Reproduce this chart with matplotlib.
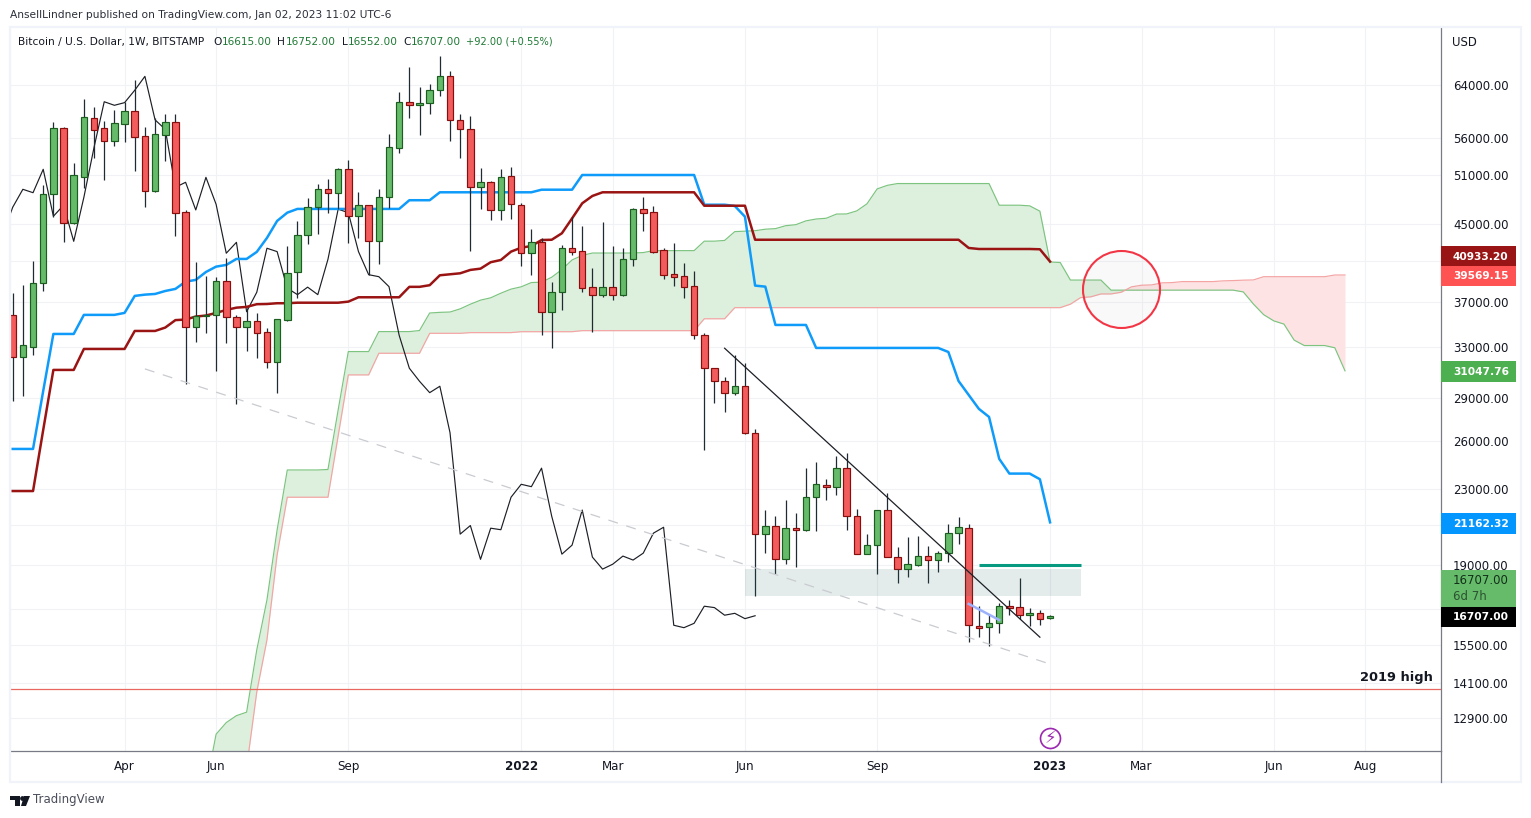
import numpy as np
import matplotlib
matplotlib.use('Agg')
from matplotlib import pyplot as plt
from matplotlib.patches import Rectangle, Polygon
from matplotlib.ticker import NullLocator

W, H = 1531, 818

# weekly candles, first week is index 0, last one is Jan 02 2023 (index 102)
opens = [35740, 32180, 33010, 38815, 48535, 57360, 45170, 50740, 58825, 57360,
         55580, 58030, 59875, 56210, 48980, 56430, 58235, 46375, 34670, 35650,
         35745, 38950, 35560, 34670, 35200, 34230, 31735, 35350, 39840, 43755,
         46965, 49150, 48660, 51700, 45910, 47200, 43090, 48170, 54520, 61340,
         60790, 61200, 63150, 65410, 58530, 57210, 49400, 50030, 46650, 50790,
         47200, 41810, 42980, 36060, 37880, 42340, 42020, 38370, 37650, 38370,
         37650, 41180, 46740, 46375, 42120, 39640, 39440, 38460, 33970, 31255,
         30240, 29380, 29860, 26510, 20540, 20990, 19270, 20860, 20750, 22550,
         23260, 23125, 24270, 21490, 19555, 19975, 21830, 19380, 18800, 19015,
         19430, 19235, 19575, 20590, 20850, 16265, 16225, 16390, 17115, 17070,
         16730, 16810, 16615]
highs = [37780, 38560, 40970, 49690, 58235, 57505, 52495, 61770, 60485, 58385,
         60070, 61300, 64810, 57505, 58825, 59470, 59470, 46640, 40870, 39470,
         39340, 41280, 35770, 36400, 35950, 34610, 35420, 42580, 45370, 48090,
         49815, 50450, 51830, 52890, 48780, 47240, 49190, 56530, 62870, 66950,
         63680, 64160, 68870, 66310, 59420, 59170, 51870, 50160, 51700, 52000,
         47470, 44420, 43420, 38850, 42690, 45800, 44800, 40280, 45250, 42580,
         42370, 46880, 48170, 47120, 42340, 42910, 40800, 39970, 34140, 31280,
         30570, 32295, 31655, 26790, 21840, 21510, 22400, 21670, 24280, 24660,
         23620, 25040, 25230, 21890, 20550, 21840, 22780, 19890, 20400, 20450,
         19940, 19690, 21070, 21450, 21070, 17130, 16780, 17245, 17390, 18380,
         17040, 16945, 16752]
lows = [28790, 29160, 32320, 38030, 45860, 43045, 45025, 49275, 53200, 50315,
        54840, 55400, 51480, 47040, 48850, 52840, 43710, 30035, 33400, 34170,
        31040, 33320, 28550, 32650, 32075, 31280, 29360, 35250, 37310, 42830,
        43935, 46330, 46800, 42940, 43425, 39570, 40720, 46920, 53940, 58920,
        56430, 59510, 62290, 55535, 53245, 42080, 46800, 45480, 45480, 45630,
        40490, 39570, 34030, 32925, 36240, 41660, 37930, 34290, 37460, 37130,
        37550, 40490, 44260, 41870, 39170, 38520, 37370, 33660, 25440, 28650,
        28010, 29230, 26470, 17580, 19600, 18580, 19060, 18920, 20710, 20710,
        22410, 22700, 20770, 19525, 19555, 18545, 19380, 18165, 18450, 18970,
        18165, 18685, 19160, 20055, 15650, 15815, 15490, 16010, 16750, 16590,
        16290, 16330, 16552]
closes = [32180, 33125, 38755, 48535, 57360, 45170, 50920, 58975, 57150, 55580,
          58090, 59875, 56150, 48980, 56490, 58235, 46330, 34670, 35680, 35745,
          38950, 35560, 34670, 35200, 34200, 31735, 35380, 39740, 43755, 46965,
          49150, 48730, 51700, 45910, 47200, 43090, 48170, 54660, 61340, 60790,
          61200, 63150, 65410, 58590, 57210, 49400, 50030, 46650, 50660, 47320,
          41810, 42980, 36060, 37880, 42340, 41980, 38270, 37650, 38370, 37650,
          41180, 46740, 46330, 41980, 39600, 39400, 38420, 33970, 31255, 30240,
          29380, 29860, 26550, 20540, 20990, 19270, 20850, 20770, 22550, 23300,
          23160, 24270, 21490, 19525, 19975, 21830, 19380, 18800, 19035, 19430,
          19235, 19575, 20590, 20900, 16310, 16210, 16390, 17115, 17055, 16730,
          16810, 16585, 16707]

# ichimoku lines
conversion = [25480, 25480, 25480, 29505, 34085, 34085, 34085, 35770, 35770, 35770,
              35770, 35950, 37530, 37650, 37715, 38000, 38200, 38910, 39080, 39870,
              40415, 40590, 41210, 41210, 41950, 43460, 45370, 46330, 46770, 46770,
              46770, 46770, 46770, 46770, 46770, 46770, 46770, 46770, 46770, 47810,
              47810, 47810, 48780, 48780, 48780, 48780, 48780, 48780, 48780, 48780,
              48780, 48780, 49100, 49100, 49100, 49100, 50960, 50960, 50960, 50960,
              50960, 50960, 50960, 50960, 50960, 50960, 50960, 50960, 47270, 47270,
              47270, 47120, 45860, 38520, 38420, 34870, 34870, 34870, 34870, 32900,
              32900, 32900, 32900, 32900, 32900, 32900, 32900, 32900, 32900, 32900,
              32900, 32900, 32565, 30260, 29210, 28200, 27630, 24850, 23940, 23940,
              23940, 23600, 21162.32]
base = [22905, 22905, 22905, 26735, 31120, 31120, 31120, 32815, 32815, 32815,
        32815, 32815, 34345, 34345, 34345, 34640, 35300, 35350, 35620, 35710,
        35950, 36220, 36430, 36500, 36750, 36770, 36840, 36840, 36890, 36890,
        36890, 36890, 36890, 36990, 37400, 37400, 37400, 37400, 37400, 38400,
        38400, 38560, 39540, 39640, 39740, 40080, 40210, 40870, 41100, 41980,
        42400, 42580, 43230, 43260, 43975, 45660, 47440, 48330, 48780, 48780,
        48780, 48780, 48780, 48780, 48780, 48780, 48780, 48780, 47150, 47150,
        47150, 47150, 47150, 43260, 43260, 43260, 43260, 43260, 43260, 43260,
        43260, 43260, 43260, 43260, 43260, 43260, 43260, 43260, 43260, 43260,
        43260, 43260, 43260, 43260, 42370, 42260, 42260, 42260, 42260, 42260,
        42260, 42230, 40933.2]

# cloud, starts at week 19 and runs 29 weeks past the last candle
cloud_start = 19
span_a = [10835, 12380, 12750, 12975, 13090, 15325, 17390, 20760, 24160, 24160,
          24160, 24160, 24190, 28120, 32600, 32600, 32600, 34290, 34290, 34290,
          34290, 34380, 35940, 36000, 36030, 36320, 36750, 37130, 37350, 37790,
          38180, 38405, 38820, 38855, 39350, 40115, 41105, 41585, 41830, 41830,
          41830, 41830, 41830, 41880, 42085, 42085, 42085, 42085, 42085, 43105,
          43105, 43185, 44160, 44210, 44260, 44430, 44495, 44825, 44940, 45380,
          45590, 45680, 46165, 46180, 46540, 47380, 49200, 49645, 49870, 49870,
          49870, 49870, 49870, 49870, 49870, 49870, 49870, 49870, 47210, 47210,
          47210, 47135, 46505, 40890, 40840, 39065, 39065, 39065, 39065, 38080,
          38080, 38080, 38080, 38080, 38080, 38080, 38080, 38080, 38080, 38080,
          38080, 38080, 37910, 36760, 35790, 35230, 34945, 33555, 33100, 33100,
          33100, 32915, 31047.76]
span_b = [7000, 7500, 8000, 9000, 11365, 13780, 15720, 19490, 22550, 22550,
          22550, 22550, 22550, 26330, 30730, 30730, 30730, 32460, 32460, 32460,
          32460, 32460, 34140, 34140, 34140, 34140, 34200, 34200, 34200, 34200,
          34200, 34280, 34280, 34280, 34280, 34280, 34280, 34370, 34370, 34370,
          34370, 34370, 34370, 34370, 34370, 34370, 34370, 34370, 34370, 35420,
          35420, 35420, 36430, 36430, 36430, 36430, 36430, 36430, 36430, 36430,
          36430, 36430, 36430, 36430, 36430, 36430, 36430, 36430, 36430, 36430,
          36430, 36430, 36430, 36430, 36430, 36430, 36430, 36430, 36430, 36430,
          36430, 36430, 36430, 36430, 36430, 36750, 37370, 37440, 37715, 37715,
          37880, 38400, 38560, 38590, 38790, 38815, 38915, 38915, 38915, 38915,
          38985, 39015, 39055, 39080, 39400, 39400, 39400, 39400, 39400, 39400,
          39400, 39569.15, 39569.15]

# price axis, empty label means the tag on the scale covers it
price_ticks = [64000, 56000, 51000, 45000, 41000, 37000, 33000, 29000, 26000,
               23000, 21000, 19000, 17000, 15500, 14100, 12900]
price_labels = ['64000.00', '56000.00', '51000.00', '45000.00', '', '37000.00',
                '33000.00', '29000.00', '26000.00', '23000.00', '', '19000.00',
                '', '15500.00', '14100.00', '12900.00']
date_ticks = [11, 20, 33, 50, 59, 72, 85, 102, 111, 124, 133]
date_labels = ['Apr', 'Jun', 'Sep', '2022', 'Mar', 'Jun', 'Sep', '2023', 'Mar', 'Jun', 'Aug']

# the author's drawings
trend_x = [70, 101]
trend_y = [32875, 15825]
support_x = [13, 102]
support_y = [31200, 14785]
blue_seg_x = [94, 97]
blue_seg_y = [17215, 16530]
high_2019 = 13880
zone_x = [72, 105.04]
zone_y = [17585, 18822]
teal_x = [95, 105.04]
teal_y = 19000
circle_x = 109
circle_y = 38150
event_x = 102
event_y = 12265

GREEN = '#66bb6a'
GREEN_EDGE = '#1b5e20'
RED = '#f25c5c'
RED_EDGE = '#880e0e'
WICK = '#1f2a33'
GRID = '#f0f2f6'
AXIS = '#787b86'
TEXT = '#131722'

plt.rcParams['font.family'] = ['DejaVu Sans']

fig = plt.figure(figsize=(W / 100, H / 100), dpi=100, facecolor='white')
ax = fig.add_axes([10 / W, 1 - 751 / H, 1431 / W, 724 / H])
ax.set_yscale('log')
ax.set_xlim(-0.265, 140.44)
ax.set_ylim(11865, 74110)

ax.set_axisbelow(True)
ax.grid(True, color=GRID, lw=0.8)
ax.yaxis.set_minor_locator(NullLocator())
ax.yaxis.tick_right()
ax.set_yticks(price_ticks)
ax.set_yticklabels(price_labels, fontsize=8.5, color=TEXT)
ax.set_xticks(date_ticks)
ax.set_xticklabels(date_labels, fontsize=8.6, color=TEXT)
ax.tick_params(axis='y', which='both', length=0, pad=8.6)
ax.tick_params(axis='x', length=0, pad=6.5)
for lab in ax.get_xticklabels():
    if lab.get_text().isdigit():
        lab.set_fontweight('bold')
ax.spines['top'].set_visible(False)
ax.spines['left'].set_color('#eef0f6')
ax.spines['right'].set_color(AXIS)
ax.spines['bottom'].set_color(AXIS)
for s in ['right', 'bottom']:
    ax.spines[s].set_linewidth(0.9)

# cloud
cloud_x = np.arange(cloud_start, cloud_start + len(span_a))
a = np.array(span_a, dtype=float)
b = np.array(span_b, dtype=float)
ax.fill_between(cloud_x, a, b, where=a >= b, interpolate=True, color='#ddefdd', lw=0, zorder=1)
ax.fill_between(cloud_x, a, b, where=a <= b, interpolate=True, color='#fde3e3', lw=0, zorder=1)
ax.plot(cloud_x, a, color='#7cc47f', lw=0.85, zorder=2)
ax.plot(cloud_x, b, color='#f5a3a3', lw=0.85, zorder=2)

# lagging span is the close moved back 29 weeks
lag = closes[28:]
ax.plot(np.arange(len(lag)) - 1, lag, color='#1c1f26', lw=0.85, zorder=3)

idx = np.arange(len(closes))
ax.plot(idx, conversion, color='#0f9bfa', lw=1.8, zorder=3)
ax.plot(idx, base, color='#9a1414', lw=1.8, zorder=3)

# candles
o = np.array(opens, dtype=float)
c = np.array(closes, dtype=float)
up = c >= o
ax.vlines(idx, lows, highs, color=WICK, lw=0.9, zorder=4)
ax.bar(idx[up], (c - o)[up], bottom=o[up], width=0.64, color=GREEN, edgecolor=GREEN_EDGE, lw=0.85, zorder=5)
ax.bar(idx[~up], (o - c)[~up], bottom=c[~up], width=0.64, color=RED, edgecolor=RED_EDGE, lw=0.85, zorder=5)

# drawings
ax.fill_between(zone_x, zone_y[0], zone_y[1], color='#2a6e60', alpha=0.13, lw=0, zorder=6)
ax.plot(teal_x, [teal_y, teal_y], color='#089981', lw=2.2, solid_capstyle='butt', zorder=6)
ax.plot(trend_x, trend_y, color='#1c1f26', lw=0.9, zorder=6)
ax.plot(support_x, support_y, color='#c9cbd0', lw=0.9, dashes=(8, 7), zorder=6)
ax.plot(blue_seg_x, blue_seg_y, color='#9db2fb', lw=1.8, zorder=6)
ax.axhline(high_2019, color='#e8685f', lw=0.9, zorder=6)
ax.scatter([circle_x], [circle_y], s=3073, facecolor=(0.6, 0.6, 0.6, 0.05), edgecolor='#f23645', lw=1.5, zorder=7)
ax.scatter([event_x], [event_y], s=207, facecolor='white', edgecolor='#9c27b0', lw=1.2, zorder=7)
ax.text(event_x, event_y, '\u26a1', color='#9c27b0', fontsize=12, ha='center', va='center', zorder=8)


def put(x, y, s, **kw):
    kw.setdefault('va', 'center')
    kw.setdefault('fontsize', 8.5)
    kw.setdefault('color', TEXT)
    return fig.text(x / W, 1 - y / H, s, zorder=12, **kw)


def tag(y0, y1, color):
    fig.add_artist(Rectangle((1441 / W, 1 - y1 / H), 75 / W, (y1 - y0) / H, transform=fig.transFigure,
                             fc=color, ec='none', zorder=10))


# outer frame and the scale line running to the bottom
fig.add_artist(Rectangle((9.5 / W, 1 - 782 / H), 1511 / W, 755 / H, transform=fig.transFigure,
                         fc='none', ec='#f0f3fa', lw=1.6, zorder=9))
fig.add_artist(plt.Line2D([1441 / W, 1441 / W], [1 - 751 / H, 1 - 782 / H], transform=fig.transFigure,
                          color=AXIS, lw=0.9, zorder=9))

# price tags
tag(246, 266, '#991515')
tag(265.5, 286, '#ff5252')
tag(361, 382, '#4caf50')
tag(513, 534, '#0496ff')
tag(570, 607, GREEN)
tag(607, 627, '#000000')
put(1453, 257, '40933.20', color='white', fontweight='bold', fontsize=7.7)
put(1453, 276, '39569.15', color='white', fontweight='bold', fontsize=7.7)
put(1453, 372, '31047.76', color='white', fontweight='bold', fontsize=7.7)
put(1453, 524, '21162.32', color='white', fontweight='bold', fontsize=7.7)
put(1453, 581, '16707.00', color='#13301a')
put(1453, 597, '6d 7h', color='#2c5232')
put(1453, 617, '16707.00', color='white', fontweight='bold', fontsize=7.7)
put(1452, 42, 'USD', fontsize=8.4)
put(1433, 677, '2019 high', ha='right', fontweight='bold', fontsize=9.4)

# header
put(10, 15, 'AnsellLindner published on TradingView.com, Jan 02, 2023 11:02 UTC-6', fontsize=7.7, color='#2a2e39')
put(18, 42, 'Bitcoin / U.S. Dollar, 1W, BITSTAMP', fontsize=7.7)
VAL = '#1f7a35'
for x, s, col in [(213.5, 'O', TEXT), (221.5, '16615.00', VAL), (277.5, 'H', TEXT), (286, '16752.00', VAL),
                  (342, 'L', TEXT), (348, '16552.00', VAL), (403.5, 'C', TEXT), (411, '16707.00', VAL)]:
    put(x, 42, s, fontsize=7.6, color=col)
put(466, 42, '+92.00 (+0.55%)', fontsize=7.1, color=VAL)

# TradingView mark
for xy in [[(10, 796), (20, 796), (20, 806), (14.5, 806), (14.5, 800), (10, 800)],
           [(24, 796), (30, 796), (26, 806), (21, 806)]]:
    pts = [(px / W, 1 - py / H) for px, py in xy]
    fig.add_artist(Polygon(pts, transform=fig.transFigure, fc='#131722', ec='none', zorder=10))
fig.add_artist(plt.Line2D([22 / W], [1 - 798 / H], marker='o', ms=2.4, color='#131722',
                          transform=fig.transFigure, zorder=10))
put(33, 800, 'TradingView', fontsize=8.5, color='#4a4e5a')

fig.savefig('out.png', dpi=100)
